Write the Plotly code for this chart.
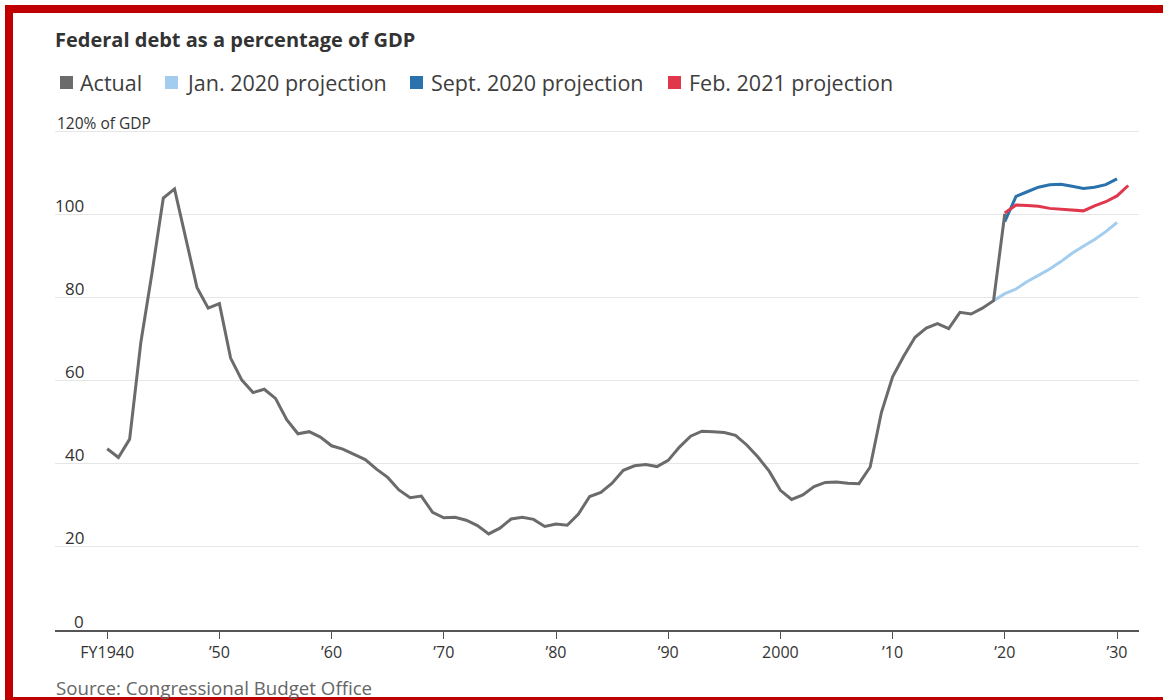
import plotly.graph_objects as go

# ---------------- data ----------------
years_actual = list(range(1940, 2021))
actual = [43.6, 41.5, 45.9, 69.2, 86.0, 103.9, 106.1, 93.9, 82.4, 77.4,
          78.5, 65.4, 60.1, 57.1, 57.9, 55.7, 50.6, 47.2, 47.7, 46.4,
          44.3, 43.5, 42.3, 41.0, 38.7, 36.7, 33.7, 31.8, 32.2, 28.3,
          27.0, 27.1, 26.4, 25.1, 23.1, 24.5, 26.7, 27.1, 26.6, 24.9,
          25.5, 25.2, 27.9, 32.1, 33.1, 35.3, 38.4, 39.5, 39.8, 39.3,
          40.8, 44.0, 46.6, 47.8, 47.7, 47.5, 46.8, 44.5, 41.6, 38.2,
          33.6, 31.4, 32.5, 34.5, 35.5, 35.6, 35.3, 35.2, 39.2, 52.3,
          60.9, 65.9, 70.4, 72.6, 73.7, 72.5, 76.4, 76.0, 77.4, 79.2,
          100.1]

years_jan2020 = list(range(2019, 2031))
jan2020 = [79.2, 80.9, 82.0, 83.8, 85.3, 86.8, 88.6, 90.6, 92.3, 93.9, 95.8, 98.0]

years_sept2020 = list(range(2020, 2031))
sept2020 = [98.2, 104.3, 105.4, 106.5, 107.1, 107.2, 106.7, 106.2, 106.5, 107.1, 108.5]

years_feb2021 = list(range(2020, 2032))
feb2021 = [100.3, 102.2, 102.1, 101.9, 101.4, 101.2, 100.9, 100.8, 102.0, 103.0, 104.4, 106.9]

series_names = ["Actual", "Jan. 2020 projection", "Sept. 2020 projection", "Feb. 2021 projection"]
series_colors = ["#6b6b6b", "#a3cdee", "#2a72ad", "#e1374d"]

x_tickvals = [1940, 1950, 1960, 1970, 1980, 1990, 2000, 2010, 2020, 2030]
x_ticktext = ["FY1940", "\u201950", "\u201960", "\u201970", "\u201980",
              "\u201990", "2000", "\u201910", "\u201920", "\u201930"]
y_tickvals = [0, 20, 40, 60, 80, 100, 120]
y_ticktext = ["0", "20", "40", "60", "80", "100", "120% of GDP"]

title_text = "Federal debt as a percentage of GDP"
source_text = "Source: Congressional Budget Office"

# ---------------- layout geometry ----------------
W, H = 1163, 700
ML, MR, MT, MB = 55, 24, 127, 70
PW, PH = W - ML - MR, H - MT - MB
FONT = "Open Sans, Noto Sans, sans-serif"


def px(xp):
    return (xp - ML) / PW


def py(yp):
    return (H - MB - yp) / PH


fig = go.Figure()

trace_data = [
    (years_jan2020, jan2020, 1),
    (years_sept2020, sept2020, 2),
    (years_feb2021, feb2021, 3),
    (years_actual, actual, 0),
]
for xs, ys, idx in trace_data:
    fig.add_trace(go.Scatter(
        x=xs, y=ys, mode="lines", name=series_names[idx],
        line=dict(color=series_colors[idx], width=3),
        showlegend=False, hoverinfo="x+y",
    ))

annotations = []
shapes = []

# title
annotations.append(dict(text="<b>" + title_text + "</b>", xref="paper", yref="paper",
                        x=px(53), y=py(39), xanchor="left", yanchor="middle",
                        showarrow=False, font=dict(family=FONT, size=20, color="#333333")))

# legend (manual squares + labels)
legend_sq_x = [60, 165, 410, 668]
legend_tx_x = [78, 184, 429, 687]
for i, name in enumerate(series_names):
    shapes.append(dict(type="rect", xref="paper", yref="paper",
                       x0=px(legend_sq_x[i]), x1=px(legend_sq_x[i] + 13),
                       y0=py(89), y1=py(76), line=dict(width=0),
                       fillcolor=series_colors[i]))
    annotations.append(dict(text=name, xref="paper", yref="paper",
                            x=px(legend_tx_x[i]), y=py(82), xanchor="left", yanchor="middle",
                            showarrow=False, font=dict(family=FONT, size=21.5, color="#3d3d3d")))

# y tick labels above gridlines
for v, t in zip(y_tickvals, y_ticktext):
    if v == 120:
        annotations.append(dict(text=t, xref="paper", yref="y", x=0, y=v,
                                xanchor="left", yanchor="middle", yshift=8,
                                showarrow=False,
                                font=dict(family=FONT, size=15.5, color="#333333")))
    else:
        annotations.append(dict(text=t, xref="paper", yref="y", x=px(86), y=v,
                                xanchor="right", yanchor="middle", yshift=9,
                                showarrow=False, font=dict(family=FONT, size=17, color="#333333")))

# source
annotations.append(dict(text=source_text, xref="paper", yref="paper",
                        x=px(54), y=py(687), xanchor="left", yanchor="middle",
                        showarrow=False, font=dict(family=FONT, size=18.7, color="#666666")))

# red frame
red = "#c00000"
shapes.append(dict(type="rect", xref="paper", yref="paper", x0=px(5), x1=px(W + 5),
                   y0=py(13), y1=py(5), line=dict(width=0), fillcolor=red, layer="above"))
shapes.append(dict(type="rect", xref="paper", yref="paper", x0=px(5), x1=px(13),
                   y0=py(H + 5), y1=py(5), line=dict(width=0), fillcolor=red, layer="above"))
shapes.append(dict(type="rect", xref="paper", yref="paper", x0=px(5), x1=px(W + 5),
                   y0=py(H + 5), y1=py(697), line=dict(width=0), fillcolor=red, layer="above"))

x0_year = 1940 - (107.2 - ML) / 11.22
x1_year = 1940 + (W - MR - 107.2) / 11.22

fig.update_layout(
    width=W, height=H,
    margin=dict(l=ML, r=MR, t=MT, b=MB, pad=0),
    paper_bgcolor="white", plot_bgcolor="white",
    font=dict(family=FONT, size=16, color="#333333"),
    showlegend=False,
    annotations=annotations,
    shapes=shapes,
    xaxis=dict(range=[x0_year, x1_year], tickvals=x_tickvals, ticktext=x_ticktext,
               showgrid=False, zeroline=False, showline=True, linecolor="#555555",
               linewidth=1.5, ticks="outside", ticklen=7, tickwidth=1.3, tickcolor="#555555",
               tickfont=dict(family=FONT, size=16, color="#333333"), fixedrange=True),
    yaxis=dict(range=[0, PH / 4.158], tickvals=y_tickvals[1:], showticklabels=False,
               showgrid=True, gridcolor="#e6e6e6", gridwidth=1, zeroline=False,
               showline=False, ticks="", fixedrange=True),
)

fig.write_html("out.html")
